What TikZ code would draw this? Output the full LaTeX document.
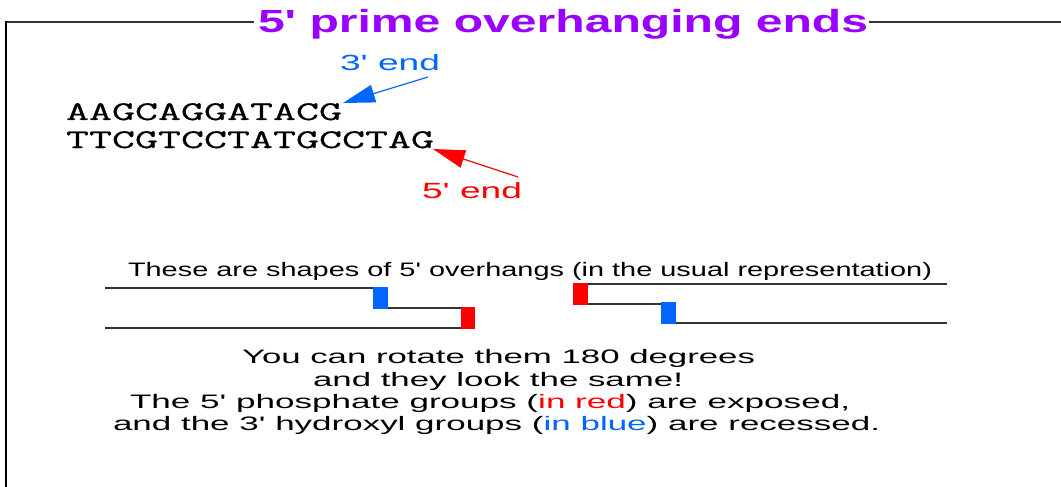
\documentclass[tikz,border=0pt]{standalone}
\usepackage{fontspec}
\usepackage{graphicx}
\usetikzlibrary{arrows.meta}
\newfontfamily\sansf{Liberation Sans}
\newfontfamily\monof[FakeBold=0.5]{Latin Modern Mono}
\definecolor{titlepurple}{HTML}{9900FF}
\definecolor{endblue}{HTML}{0066FF}
\definecolor{endred}{HTML}{FF0000}
\definecolor{rulegray}{HTML}{333333}
% stretch a text horizontally to a given width, keeping its height
\newcommand\fitto[2]{\resizebox{#1}{\height}{#2}}
\tikzset{
  txt/.style={inner sep=0pt, outer sep=0pt, anchor=base west},
  frameline/.style={draw=rulegray, line width=2pt},
  strand/.style={draw=rulegray, line width=2pt},
  endarrow/.style={line width=1.2pt, -{Triangle[length=32pt,width=18pt]}},
}
\begin{document}
\begin{tikzpicture}[x=1pt,y=-1pt]
\useasboundingbox (0,0) rectangle (1061,487);

% frame with the title set into its top edge
\node[txt] (title) at (258,33) {\fitto{610pt}{\color{titlepurple}\sansf\bfseries\fontsize{32}{32}\selectfont 5' prime overhanging ends}};
\draw[frameline] (5,22) -- (254,22);
\draw[frameline] (869,22) -- (1061,22);
\draw[frameline, draw=black, line width=2.5pt] (6,21) -- (6,487);

% the duplex
\node[txt] (top) at (66,120) {\fitto{276pt}{\monof\fontsize{27}{27}\selectfont AAGCAGGATACG}};
\node[txt] (bot) at (66,148) {\fitto{368pt}{\monof\fontsize{27}{27}\selectfont TTCGTCCTATGCCTAG}};

% end labels and their arrows
\node[txt] (three) at (340,71) {\fitto{100pt}{\color{endblue}\sansf\fontsize{22}{22}\selectfont 3' end}};
\node[txt] (five) at (422,198) {\fitto{100pt}{\color{endred}\sansf\fontsize{22}{22}\selectfont 5' end}};
\coordinate (threetail) at (428,77);
\coordinate (threetip) at (343,103);
\coordinate (fivetail) at (518,177);
\coordinate (fivetip) at (433,149);
\draw[endarrow, endblue] (threetail) -- (threetip);
\draw[endarrow, endred] (fivetail) -- (fivetip);

% caption above the overhang sketches
\node[txt] (shapes) at (128,276) {\fitto{804pt}{\sansf\fontsize{19.5}{19.5}\selectfont These are shapes of 5' overhangs (in the usual representation)}};

% left overhang sketch
\draw[strand] (105,288) -- (373,288);
\fill[endblue] (373,287) rectangle (388,309);
\draw[strand] (388,308) -- (461,308);
\fill[endred] (461,307) rectangle (475,329);
\draw[strand] (105,328) -- (461,328);

% right overhang sketch
\fill[endred] (573,283) rectangle (588,305);
\draw[strand] (588,284) -- (947,284);
\draw[strand] (588,304) -- (662,304);
\fill[endblue] (661,302) rectangle (676,324);
\draw[strand] (676,323) -- (947,323);

% explanation
\node[txt] (l1) at (242,363) {\fitto{513pt}{\sansf\fontsize{19.5}{19.5}\selectfont You can rotate them 180 degrees}};
\node[txt] (l2) at (313,386) {\fitto{370pt}{\sansf\fontsize{19.5}{19.5}\selectfont and they look the same!}};
\node[txt] (l3) at (130,408) {\fitto{720pt}{\sansf\fontsize{19.5}{19.5}\selectfont The 5' phosphate groups ({\color{endred}in red}) are exposed,}};
\node[txt] (l4) at (113,430) {\fitto{767pt}{\sansf\fontsize{19.5}{19.5}\selectfont and the 3' hydroxyl groups ({\color{endblue}in blue}) are recessed.}};
\end{tikzpicture}
\end{document}
